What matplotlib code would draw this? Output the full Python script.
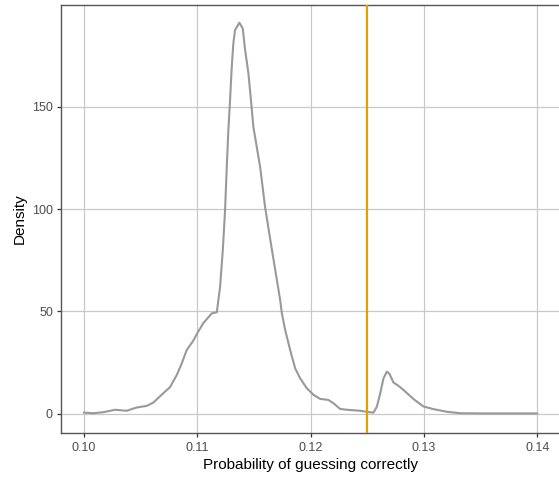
import matplotlib
matplotlib.use("Agg")
import matplotlib.pyplot as plt

plt.rcParams['font.family'] = ['Liberation Sans', 'DejaVu Sans']

# Density curve
prob = [0.1000, 0.10082, 0.10170, 0.10274, 0.10377, 0.10465, 0.10554, 0.10612,
        0.10700, 0.10759, 0.10819, 0.10863, 0.10907, 0.10965, 0.11000, 0.11053,
        0.11128, 0.11172, 0.11186, 0.11201, 0.11225, 0.11245, 0.11260, 0.11274,
        0.11289, 0.11304, 0.11318, 0.11333, 0.11371, 0.11401, 0.11422, 0.11451,
        0.11472, 0.11495, 0.11554, 0.11598, 0.11649, 0.11702, 0.11731, 0.11746,
        0.11775, 0.11819, 0.11863, 0.11907, 0.11966, 0.12025, 0.12084, 0.12157,
        0.12201, 0.12260, 0.12320, 0.12437, 0.12496, 0.12555, 0.12585, 0.12614,
        0.12643, 0.12673, 0.12696, 0.12731, 0.12775, 0.12819, 0.12908, 0.12996,
        0.13084, 0.13203, 0.13320, 0.1350, 0.1400]
density = [0.6, 0.3, 0.8, 2.0, 1.5, 3.1, 3.9, 5.5,
           10.1, 13.0, 19.0, 24.7, 31.2, 35.8, 39.4, 44.3,
           49.1, 49.6, 55.6, 62.0, 80.0, 99.6, 120.7, 138.6,
           153.3, 169.5, 180.9, 187.4, 191.0, 188.2, 177.6, 166.3,
           154.0, 140.0, 120.7, 101.0, 83.3, 65.4, 55.6, 49.1,
           41.0, 31.2, 22.3, 17.4, 12.5, 9.3, 7.3, 6.8,
           5.2, 2.4, 2.0, 1.5, 1.0, 0.6, 3.6, 10.0,
           17.4, 20.6, 19.5, 15.3, 13.7, 11.7, 7.2, 3.6,
           2.3, 1.0, 0.3, 0.2, 0.2]

threshold = 0.125
x_ticks = [0.10, 0.11, 0.12, 0.13, 0.14]
x_labels = ["0.10", "0.11", "0.12", "0.13", "0.14"]
y_ticks = [0, 50, 100, 150]

fig = plt.figure(figsize=(5.59, 4.79), dpi=100)
ax = fig.add_axes([0.1097, 0.0954, 0.892, 0.8952])

ax.plot(prob, density, color="#999999", lw=1.5, zorder=3)
ax.axvline(threshold, color="#E69F00", lw=1.6, zorder=4)

ax.set_xlim(0.098, 0.142)
ax.set_ylim(-9.5, 199.9)
ax.set_xticks(x_ticks)
ax.set_xticklabels(x_labels)
ax.set_yticks(y_ticks)

ax.grid(True, color="#C8C8C8", lw=0.9)
ax.set_axisbelow(True)
for s in ["left", "bottom", "top"]:
    ax.spines[s].set_color("#555555")
    ax.spines[s].set_linewidth(1.0)
ax.spines["right"].set_visible(False)

ax.tick_params(axis="both", length=3, width=0.9, color="#333333",
               labelcolor="#4D4D4D", labelsize=9, pad=3)

ax.set_xlabel("Probability of guessing correctly", fontsize=11, color="black", labelpad=3)
ax.set_ylabel("Density", fontsize=11, color="black", labelpad=4)

fig.savefig("out.png", dpi=100)
